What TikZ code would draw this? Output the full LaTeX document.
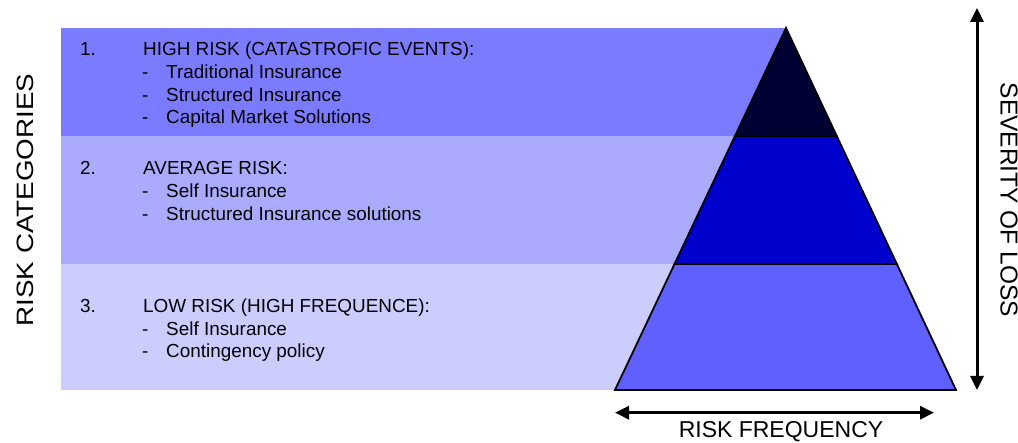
\documentclass[tikz,border=0pt]{standalone}
\usepackage{fontspec}
\setmainfont{Liberation Sans}
\usetikzlibrary{arrows.meta,calc}
\definecolor{bandhigh}{HTML}{7B7BFF}
\definecolor{bandavg}{HTML}{AAAAFF}
\definecolor{bandlow}{HTML}{CCCCFF}
\definecolor{tiertop}{HTML}{000033}
\definecolor{tiermid}{HTML}{0000CC}
\definecolor{tierbase}{HTML}{6060FF}
\tikzset{
  tier/.style={fill=#1, draw=black, line width=1.8pt, line join=miter},
  txt/.style={anchor=base west, inner sep=0pt, font=\fontsize{18.9}{22}\selectfont},
  axis/.style={line width=3pt, {Triangle[length=14pt,width=13pt]}-{Triangle[length=14pt,width=13pt]}},
  biglabel/.style={inner sep=0pt, font=\fontsize{#1}{#1}\selectfont}
}
\newcommand{\riskhead}[4]{% name, baseline, number, heading
\node[txt] (#1n) at (80,#2) {#3};
\node[txt] (#1) at (143,#2) {#4};}
\newcommand{\riskitem}[3]{% name, baseline, text
\node[txt] (#1d) at (142,#2) {-};
\node[txt] (#1) at (166,#2) {#3};}

\begin{document}
\begin{tikzpicture}[x=1pt,y=-1pt]
\useasboundingbox (0,0) rectangle (1018,443);
\clip (0,0) rectangle (1018,443);

\fill[bandhigh] (61,28) rectangle (786,136);
\fill[bandavg] (61,136) rectangle (786,264);
\fill[bandlow] (61,264) rectangle (786,390);

\coordinate (apex) at (786,28);
\coordinate (bl) at (615,390);
\coordinate (br) at (956,390);
\coordinate (t1l) at ($(apex)!0.2983!(bl)$);
\coordinate (t1r) at ($(apex)!0.2983!(br)$);
\coordinate (t2l) at ($(apex)!0.652!(bl)$);
\coordinate (t2r) at ($(apex)!0.652!(br)$);
\draw[tier=tierbase] (t2l) -- (bl) -- (br) -- (t2r) -- cycle;
\draw[tier=tiermid] (t1l) -- (t2l) -- (t2r) -- (t1r) -- cycle;
\draw[tier=tiertop] (apex) -- (t1l) -- (t1r) -- cycle;

\riskhead{high}{56}{1.}{HIGH RISK (CATASTROFIC EVENTS):}
\riskitem{hightrad}{79}{Traditional Insurance}
\riskitem{highstruct}{101.7}{Structured Insurance}
\riskitem{highcap}{124}{Capital Market Solutions}

\riskhead{avg}{175}{2.}{AVERAGE RISK:}
\riskitem{avgself}{198}{Self Insurance}
\riskitem{avgstruct}{221}{Structured Insurance solutions}

\riskhead{low}{313}{3.}{LOW RISK (HIGH FREQUENCE):}
\riskitem{lowself}{336}{Self Insurance}
\riskitem{lowcont}{358}{Contingency policy}

\node[biglabel=27.8, rotate=90] (cat) at (25,200) {\scalebox{1}[0.85]{RISK CATEGORIES}};
\node[biglabel=24.5, rotate=-90] (sev) at (1009,200) {SEVERITY OF LOSS};
\node[biglabel=23, anchor=base] (freq) at (781,438) {RISK FREQUENCY};

\coordinate (sevtop) at (977,8);
\coordinate (sevbot) at (977,390);
\coordinate (freqleft) at (615,412.7);
\coordinate (freqright) at (934,412.7);
\draw[axis] (sevtop) -- (sevbot);
\draw[axis] (freqleft) -- (freqright);

\end{tikzpicture}
\end{document}
